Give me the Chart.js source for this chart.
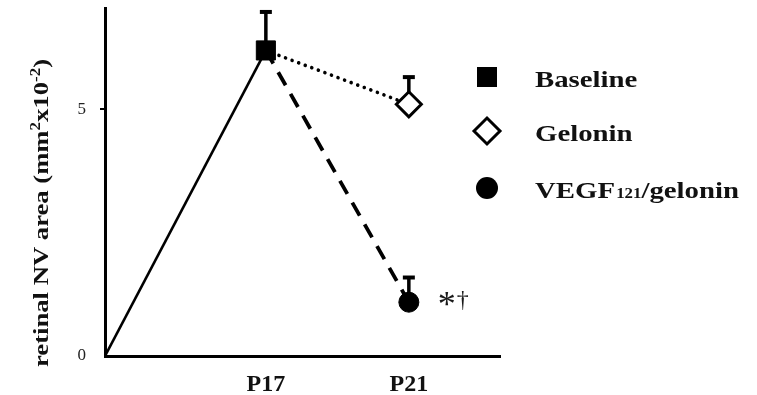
<!DOCTYPE html>
<html>
<head>
<meta charset="utf-8">
<script src="https://cdn.jsdelivr.net/npm/chart.js@4.4.1/dist/chart.umd.min.js"></script>
<style>
  html, body { margin: 0; padding: 0; background: #ffffff; }
  #wrap { width: 757px; height: 395px; position: relative; }
</style>
</head>
<body>
<div id="wrap"><canvas id="c" width="757" height="395"></canvas></div>
<script>
// ---- data ----
const originDay = 12.5;                 // start of the solid line (x axis origin)
const timeDays = [17, 21];              // P17, P21
const xTickValues = [17, 21];
const xTickLabels = ['P17', 'P21'];
const yTickValues = [0, 5];

const baselineValues = [0, 6.19];       // at originDay, P17
const baselineErr    = [0, 0.78];
const gelValues      = [6.19, 5.1];     // at P17, P21
const gelErr         = [0, 0.55];
const vegfValues     = [6.19, 1.09];    // at P17, P21
const vegfErr        = [0, 0.5];
const vegfSignif     = [['', ''], ['*', '\u2020']];

const legendNames = [
  { main: 'Baseline', sub: '', rest: '' },
  { main: 'Gelonin', sub: '', rest: '' },
  { main: 'VEGF', sub: '121', rest: '/gelonin' }
];
const yTitleParts = [
  { t: 'retinal NV area (mm', sup: false },
  { t: '2', sup: true },
  { t: 'x10', sup: false },
  { t: '-2', sup: true },
  { t: ')', sup: false }
];

const SERIF = '"Liberation Serif", "Times New Roman", serif';

const ds = [
  {
    label: legendNames[0].main,
    data: [{ x: originDay, y: baselineValues[0] }, { x: timeDays[0], y: baselineValues[1] }],
    err: baselineErr,
    borderColor: '#000', borderWidth: 2.6,
    pointStyle: 'rect', pointRadius: [0, 13.5],
    pointBackgroundColor: '#000', pointBorderColor: '#000', pointBorderWidth: 1,
    markerKind: 'rect'
  },
  {
    label: legendNames[1].main,
    data: [{ x: timeDays[0], y: gelValues[0] }, { x: timeDays[1], y: gelValues[1] }],
    err: gelErr,
    borderColor: '#000', borderWidth: 3.6, borderDash: [0.01, 7], borderCapStyle: 'round',
    pointStyle: 'rectRot', pointRadius: [0, 12.5],
    pointBackgroundColor: '#fff', pointBorderColor: '#000', pointBorderWidth: 3,
    markerKind: 'rectRot'
  },
  {
    label: legendNames[2].main + legendNames[2].sub + legendNames[2].rest,
    data: [{ x: timeDays[0], y: vegfValues[0] }, { x: timeDays[1], y: vegfValues[1] }],
    err: vegfErr,
    signif: vegfSignif,
    borderColor: '#000', borderWidth: 3.8, borderDash: [15, 10],
    pointStyle: 'circle', pointRadius: [0, 10],
    pointBackgroundColor: '#000', pointBorderColor: '#000', pointBorderWidth: 1,
    markerKind: 'circle'
  }
];

// error bars (upper only), drawn under the markers
const errorBars = {
  id: 'errorBars',
  beforeDatasetsDraw(chart) {
    const ctx = chart.ctx, ys = chart.scales.y;
    ctx.save();
    ctx.strokeStyle = '#000';
    chart.data.datasets.forEach((d, i) => {
      const meta = chart.getDatasetMeta(i);
      meta.data.forEach((el, j) => {
        const e = d.err ? d.err[j] : 0;
        if (!e) return;
        const yTop = ys.getPixelForValue(d.data[j].y + e);
        ctx.lineWidth = 3.5;
        ctx.beginPath(); ctx.moveTo(el.x, el.y); ctx.lineTo(el.x, yTop); ctx.stroke();
        ctx.lineWidth = 4;
        ctx.beginPath(); ctx.moveTo(el.x - 6, yTop); ctx.lineTo(el.x + 6, yTop); ctx.stroke();
      });
    });
    ctx.restore();
  }
};

// significance marks, custom legend and rotated y title
const decorations = {
  id: 'decorations',
  afterDatasetsDraw(chart) {
    const ctx = chart.ctx;
    ctx.save();
    chart.data.datasets.forEach((d, i) => {
      if (!d.signif) return;
      const meta = chart.getDatasetMeta(i);
      meta.data.forEach((el, j) => {
        const s = d.signif[j];
        if (!s[0] && !s[1]) return;
        ctx.fillStyle = '#1a1a1a';
        ctx.textAlign = 'left';
        ctx.textBaseline = 'alphabetic';
        ctx.font = '36px ' + SERIF;
        ctx.fillText(s[0], el.x + 29, el.y + 14);
        const w = ctx.measureText(s[0]).width;
        ctx.font = '24px ' + SERIF;
        ctx.fillText(s[1], el.x + 29 + w + 1, el.y + 5);
      });
    });
    ctx.restore();
  },
  afterDraw(chart) {
    const ctx = chart.ctx;
    // ---- legend ----
    const lx = 487, tx = 535;
    const rows = [77, 131, 188];
    const baselines = [87, 141, 198];
    chart.data.datasets.forEach((d, i) => {
      const cy = rows[i];
      ctx.save();
      ctx.fillStyle = '#000'; ctx.strokeStyle = '#000';
      if (d.markerKind === 'rect') {
        ctx.fillRect(lx - 10, cy - 10, 20, 20);
      } else if (d.markerKind === 'rectRot') {
        ctx.lineWidth = 3;
        ctx.fillStyle = '#fff';
        ctx.beginPath();
        ctx.moveTo(lx - 13, cy); ctx.lineTo(lx, cy - 13); ctx.lineTo(lx + 13, cy); ctx.lineTo(lx, cy + 13);
        ctx.closePath(); ctx.fill(); ctx.stroke();
      } else {
        ctx.beginPath(); ctx.arc(lx, cy, 11, 0, Math.PI * 2); ctx.fill();
      }
      ctx.restore();

      const n = legendNames[i];
      ctx.save();
      ctx.translate(tx, baselines[i]);
      ctx.scale(1.2, 1);
      ctx.fillStyle = '#111';
      ctx.textAlign = 'left';
      ctx.textBaseline = 'alphabetic';
      ctx.font = 'bold 24px ' + SERIF;
      let x = 0;
      ctx.fillText(n.main, x, 0); x += ctx.measureText(n.main).width;
      if (n.sub) {
        ctx.font = 'bold 14px ' + SERIF;
        ctx.fillText(n.sub, x + 1, 0); x += ctx.measureText(n.sub).width + 1;
        ctx.font = 'bold 24px ' + SERIF;
      }
      if (n.rest) ctx.fillText(n.rest, x, 0);
      ctx.restore();
    });

    // ---- y axis title ----
    ctx.save();
    const big = 'bold 22px ' + SERIF, small = 'bold 14px ' + SERIF;
    let total = 0;
    yTitleParts.forEach(p => { ctx.font = p.sup ? small : big; total += ctx.measureText(p.t).width; });
    const targetLen = 308, sx = targetLen / total;
    ctx.translate(48, 213);
    ctx.rotate(-Math.PI / 2);
    ctx.scale(sx, 1);
    ctx.fillStyle = '#111';
    ctx.textBaseline = 'alphabetic';
    ctx.textAlign = 'left';
    let x = -total / 2;
    yTitleParts.forEach(p => {
      ctx.font = p.sup ? small : big;
      ctx.fillText(p.t, x, p.sup ? -8 : 0);
      x += ctx.measureText(p.t).width;
    });
    ctx.restore();
  }
};

new Chart(document.getElementById('c'), {
  type: 'line',
  data: { datasets: ds },
  options: {
    responsive: false,
    animation: false,
    devicePixelRatio: 1,
    layout: { autoPadding: false, padding: { top: 8, right: 257, left: 0, bottom: 0 } },
    plugins: { legend: { display: false }, tooltip: { enabled: false } },
    elements: { line: { tension: 0 } },
    scales: {
      x: {
        type: 'linear',
        min: originDay,
        max: 23.55,
        afterBuildTicks: (s) => { s.ticks = xTickValues.map(v => ({ value: v })); },
        afterFit: (s) => { s.height = 39; s.paddingLeft = 0; s.paddingRight = 0; },
        grid: { display: false, drawTicks: false },
        border: { display: true, color: '#000', width: 3 },
        ticks: {
          autoSkip: false, maxRotation: 0, padding: 14,
          color: '#111',
          font: { family: SERIF, size: 24, weight: 'bold' },
          callback: (v) => xTickLabels[xTickValues.indexOf(v)]
        }
      },
      y: {
        min: 0,
        max: 7.05,
        afterBuildTicks: (s) => { s.ticks = yTickValues.map(v => ({ value: v })); },
        afterFit: (s) => { s.width = 105; s.paddingTop = 0; s.paddingBottom = 0; },
        grid: {
          drawOnChartArea: false, drawTicks: true, tickLength: 5, lineWidth: 2,
          color: (c) => (c.tick && c.tick.value === 5) ? '#000' : 'rgba(0,0,0,0)'
        },
        border: { display: true, color: '#000', width: 3 },
        ticks: {
          padding: 14,
          color: '#222',
          font: { family: SERIF, size: 17 },
          callback: (v) => String(v)
        }
      }
    }
  },
  plugins: [errorBars, decorations]
});
</script>
</body>
</html>
